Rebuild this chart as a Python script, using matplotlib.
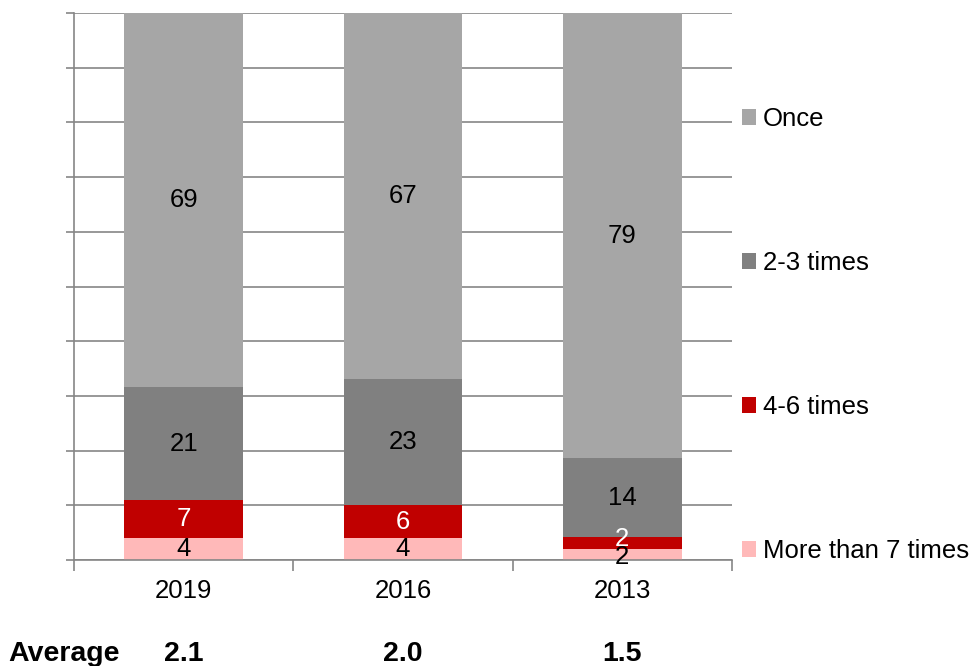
import matplotlib
matplotlib.use("Agg")
import matplotlib.pyplot as plt
from matplotlib.patches import Patch
import matplotlib.transforms as mtransforms
import numpy as np

plt.rcParams['font.family'] = ['Liberation Sans', 'DejaVu Sans']

years = ["2019", "2016", "2013"]
series = ["More than 7 times", "4-6 times", "2-3 times", "Once"]
more7 = [4, 4, 2]
four6 = [7, 6, 2]
two3 = [21, 23, 14]
once = [69, 67, 79]
averages = ["2.1", "2.0", "1.5"]

colors = ["#FFB9B9", "#C00000", "#808080", "#A6A6A6"]
label_colors = ["black", "white", "black", "black"]
# small nudge (points) for labels in very thin segments, as in the reference
thin_nudge = [-2, 3, 0, 0]
FS = 18.5

data = np.array([more7, four6, two3, once], dtype=float)
totals = data.sum(axis=0)
shares = data / totals * 100

fig = plt.figure(figsize=(9.76, 6.66), dpi=100)
ax = fig.add_axes([74/976, 1-560/666, (732-74)/976, (560-13)/666])

x = np.arange(len(years))
bottom = np.zeros(len(years))
handles = []
for i, name in enumerate(series):
    ax.bar(x, shares[i], 0.54, bottom=bottom, color=colors[i], zorder=2, label=name)
    for j in range(len(years)):
        dy = thin_nudge[i] if shares[i][j] < 3 else 0
        ax.annotate(f"{int(data[i][j])}", (x[j], bottom[j] + shares[i][j] / 2),
                    xytext=(0, dy), textcoords="offset points",
                    ha="center", va="center", fontsize=FS, color=label_colors[i], zorder=3)
    bottom += shares[i]
    handles.append(Patch(facecolor=colors[i], edgecolor="none"))

ax.set_xlim(-0.5, 2.5)
ax.set_ylim(0, 100)
ax.set_yticks(np.arange(0, 101, 10))
ax.set_yticklabels([])
ax.yaxis.grid(True, color="#868686", linewidth=1.2, zorder=0)
ax.set_axisbelow(True)
ax.tick_params(axis="y", direction="out", length=6, color="#868686", width=1.2)

ax.set_xticks([-0.5, 0.5, 1.5, 2.5])
ax.set_xticklabels([])
ax.set_xticks(x, minor=True)
ax.set_xticklabels(years, minor=True, fontsize=FS)
ax.tick_params(axis="x", which="major", direction="out", length=8, color="#868686", width=1.2)
ax.tick_params(axis="x", which="minor", length=0, pad=14)

for s in ["top", "right"]:
    ax.spines[s].set_visible(False)
for s in ["left", "bottom"]:
    ax.spines[s].set_color("#868686")
    ax.spines[s].set_linewidth(1.2)

leg = ax.legend(handles[::-1], series[::-1], loc="center left", bbox_to_anchor=(1.0, 0.411),
                frameon=False, fontsize=FS, handlelength=0.55, handleheight=0.55,
                handletextpad=0.25, labelspacing=4.67, borderaxespad=0.0)

trans = mtransforms.blended_transform_factory(ax.transData, fig.transFigure)
fig.text(8/976, 1-654/666, "Average", fontsize=20.5, fontweight="bold", ha="left", va="center")
for j, a in enumerate(averages):
    fig.text(x[j], 1-654/666, a, transform=trans, fontsize=20.5, fontweight="bold", ha="center", va="center")

fig.savefig("out.png", dpi=100)
